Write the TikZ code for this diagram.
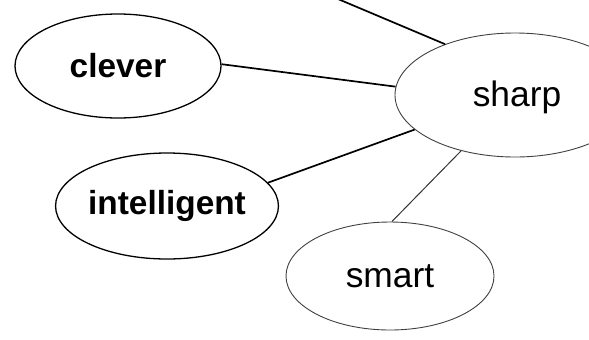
\documentclass[tikz,border=0pt]{standalone}
\usepackage{fontspec}
\setmainfont{Liberation Sans}
\usetikzlibrary{shapes.geometric}
\begin{document}
\begin{tikzpicture}[x=1bp,y=-1bp,
  word/.style={ellipse,inner sep=0pt,font=\fontsize{35.5}{38}\selectfont},
  boldword/.style={word,draw=black,line width=1.3bp,font=\fontsize{33.5}{36}\selectfont\bfseries},
  faintword/.style={word,draw=black!75,line width=0.9bp},
  link/.style={draw=black,line width=1.7bp},
  thinlink/.style={draw=black!80,line width=1bp}]
\useasboundingbox (0,0) rectangle (589,339);
\clip (0,0) rectangle (589,339);
\node[boldword,minimum width=206bp,minimum height=104bp] (clever) at (118,66) {clever};
\node[boldword,minimum width=208bp,minimum height=106bp] (intelligent) at (167,206) {intelligent};
\node[faintword,minimum width=240bp,minimum height=124bp] (sharp) at (515,95) {};
\node at (517,97) [font=\fontsize{35.5}{38}\selectfont] (sharptext) {sharp};
\node[faintword,minimum width=208bp,minimum height=108bp] (smart) at (390,276) {smart};
\coordinate (top) at (338,-1);
\draw[link] (top) -- (sharp.144);
\draw[link] (clever.1) -- (sharp.176);
\draw[link] (intelligent.13) -- (sharp.199);
\draw[thinlink] (smart.88) -- (sharp.226);
\end{tikzpicture}
\end{document}
